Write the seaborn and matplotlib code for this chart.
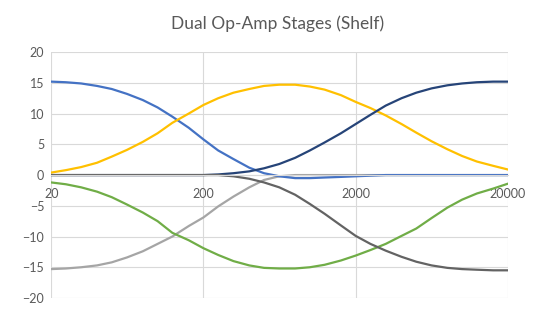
import numpy as np
import pandas as pd
import matplotlib
matplotlib.use("Agg")
import matplotlib.pyplot as plt
import seaborn as sns

# frequency points (Hz), 1/3 octave steps
freq = [20, 25, 31.5, 40, 50, 63, 80, 100, 125, 160, 200, 250, 315, 400, 500, 630,
        800, 1000, 1250, 1600, 2000, 2500, 3150, 4000, 5000, 6300, 8000, 10000,
        12500, 16000, 20000]

# gain (dB) of each stage
low_shelf_cut_lo = [-15.3, -15.2, -15.0, -14.7, -14.2, -13.4, -12.4, -11.2, -10.0, -8.3, -6.9,
                    -5.1, -3.5, -2.0, -0.8, -0.2, 0, 0, 0, 0, 0, 0, 0, 0, 0, 0, 0, 0, 0, 0, 0]
low_shelf_boost = [15.2, 15.1, 14.9, 14.5, 14.0, 13.2, 12.2, 11.0, 9.5, 7.7, 5.8, 4.0, 2.6,
                   1.2, 0.3, -0.2, -0.5, -0.5, -0.4, -0.3, -0.2, -0.1, 0, 0, 0, 0, 0, 0, 0, 0, 0]
bell_boost = [0.4, 0.8, 1.3, 2.0, 3.0, 4.1, 5.4, 6.8, 8.5, 10.0, 11.4, 12.5, 13.4, 14.0, 14.5,
              14.7, 14.7, 14.4, 13.9, 13.0, 11.9, 10.9, 9.7, 8.3, 6.9, 5.5, 4.2, 3.1, 2.2, 1.5, 0.9]
bell_cut = [-1.2, -1.5, -2.0, -2.7, -3.6, -4.8, -6.1, -7.5, -9.4, -10.6, -11.9, -13.0, -14.0,
            -14.7, -15.1, -15.2, -15.2, -15.0, -14.6, -13.9, -13.1, -12.2, -11.2, -9.9, -8.7,
            -7.0, -5.3, -4.0, -3.0, -2.2, -1.4]
high_shelf_boost = [0, 0, 0, 0, 0, 0, 0, 0, 0, 0, 0, 0.1, 0.3, 0.6, 1.1, 1.8, 2.8, 4.0, 5.3,
                    6.8, 8.3, 9.8, 11.3, 12.5, 13.4, 14.1, 14.6, 14.9, 15.1, 15.2, 15.2]
high_shelf_cut = [0, 0, 0, 0, 0, 0, 0, 0, 0, 0, 0, 0, -0.2, -0.6, -1.2, -2.0, -3.2, -4.7, -6.3,
                  -8.2, -9.9, -11.2, -12.3, -13.3, -14.1, -14.7, -15.1, -15.3, -15.4, -15.5, -15.5]

series = {
    "Low cut": low_shelf_cut_lo,
    "Low boost": low_shelf_boost,
    "Bell boost": bell_boost,
    "Bell cut": bell_cut,
    "High boost": high_shelf_boost,
    "High cut": high_shelf_cut,
}
colors = {
    "Low cut": "#A5A5A5",
    "Low boost": "#4472C4",
    "Bell boost": "#FFC000",
    "Bell cut": "#70AD47",
    "High boost": "#264478",
    "High cut": "#636363",
}

df = pd.DataFrame({"freq": freq, **series}).melt(id_vars="freq", var_name="stage", value_name="gain")

sns.set_style("white")
plt.rcParams["font.family"] = ["Lato", "DejaVu Sans"]

fig = plt.figure(figsize=(5.33, 3.14), dpi=100)
ax = fig.add_axes([0.096, 0.051, 0.857, 0.783])

sns.lineplot(data=df, x="freq", y="gain", hue="stage", palette=colors, hue_order=list(series),
             linewidth=1.6, legend=False, ax=ax, sort=False)

ax.set_xscale("log")
ax.set_xlim(20, 20000)
ax.set_ylim(-20, 20)
ax.set_yticks(range(-20, 25, 5))
ax.set_xticks([20, 200, 2000, 20000])
ax.set_xticklabels(["20", "200", "2000", "20000"])
ax.minorticks_off()
ax.grid(True, color="#D9D9D9", linewidth=0.8)
ax.set_axisbelow(True)

for s in ["top", "right", "left"]:
    ax.spines[s].set_visible(False)
ax.spines["bottom"].set_position(("data", 0))
ax.spines["bottom"].set_color("#D9D9D9")
ax.tick_params(axis="both", length=0, labelsize=9, labelcolor="#595959", pad=5)
ax.tick_params(axis="x", pad=9)
ax.set_xlabel("")
ax.set_ylabel("")

fig.text(0.52, 0.925, "Dual Op-Amp Stages (Shelf)", ha="center", va="center",
         fontsize=12.5, color="#595959")

fig.savefig("out.png", dpi=100)
